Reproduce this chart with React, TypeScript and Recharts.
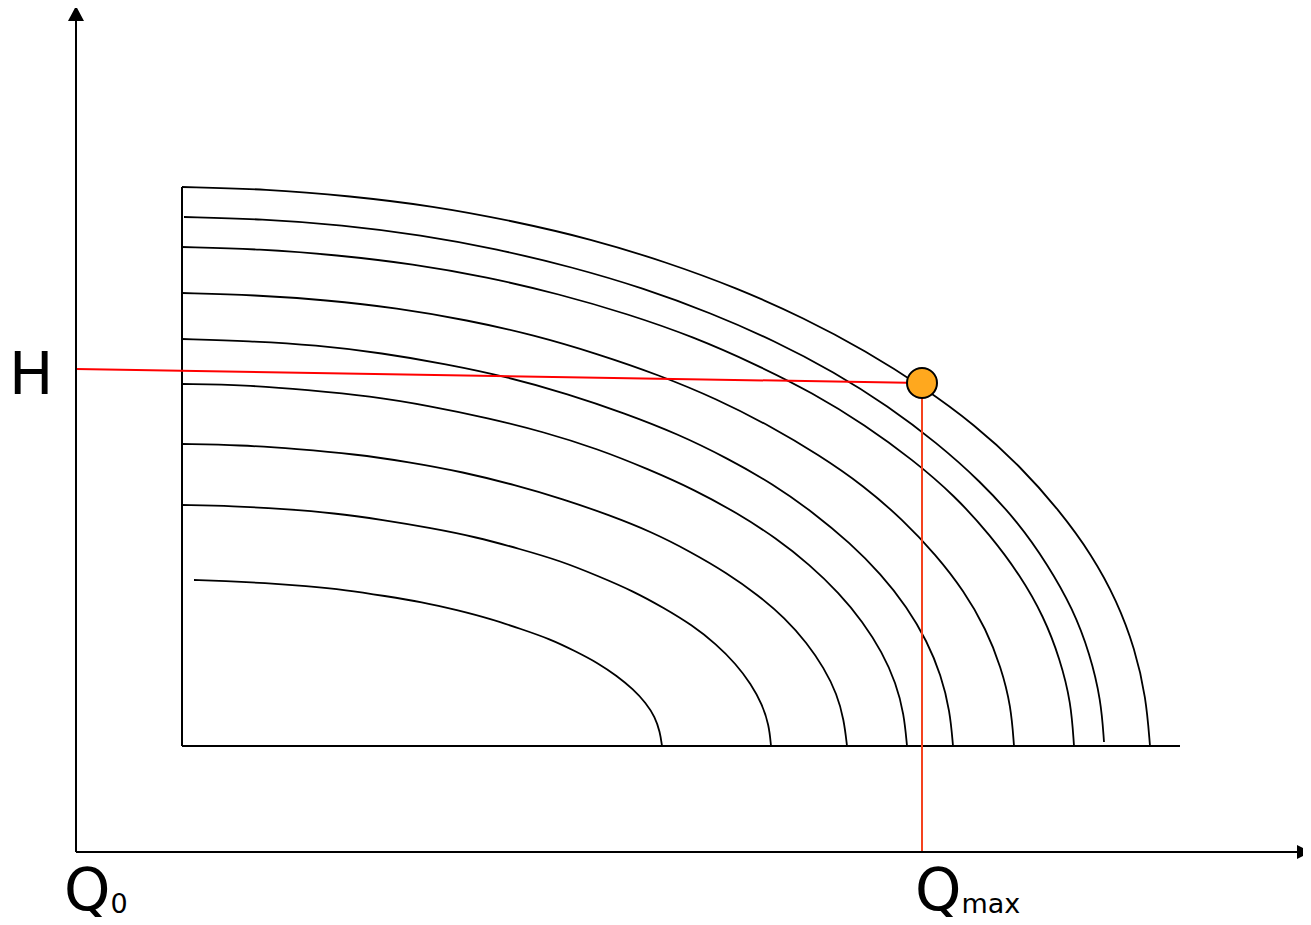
import { ComposedChart, Line, ReferenceDot, XAxis, YAxis } from "recharts";

// flow / head (same units as the plot: Q to the right, H up)
type Pt = [number, number];

const curve1: Pt[] = [[106, 665], [190, 663], [274, 656], [357, 646], [437, 631], [515, 613], [590, 590], [661, 564], [728, 534], [790, 501], [847, 465], [899, 427], [944, 386], [983, 342], [1016, 297], [1041, 251], [1059, 203], [1070, 155], [1074, 106]];
const curve2: Pt[] = [[108, 635], [186, 633], [266, 627], [345, 617], [421, 603], [496, 585], [567, 564], [635, 539], [699, 511], [758, 480], [812, 446], [861, 409], [904, 371], [942, 330], [972, 287], [997, 243], [1014, 198], [1025, 152], [1028, 110]];
const curve3: Pt[] = [[106, 605], [184, 603], [261, 597], [337, 588], [411, 575], [483, 558], [552, 538], [618, 515], [679, 488], [737, 459], [789, 427], [837, 392], [879, 356], [914, 317], [944, 277], [968, 235], [984, 193], [995, 150], [998, 106]];
const curve4: Pt[] = [[106, 559], [179, 557], [250, 552], [321, 544], [391, 532], [458, 517], [522, 498], [583, 477], [641, 453], [694, 426], [743, 397], [788, 366], [827, 332], [860, 297], [888, 261], [910, 223], [925, 185], [935, 146], [938, 106]];
const curve5: Pt[] = [[106, 513], [173, 511], [240, 507], [306, 499], [370, 488], [432, 475], [492, 458], [548, 439], [602, 418], [651, 394], [697, 368], [738, 339], [774, 309], [805, 278], [831, 245], [851, 211], [865, 177], [874, 141], [877, 106]];
const curve6: Pt[] = [[106, 468], [169, 467], [232, 462], [294, 456], [354, 446], [412, 434], [468, 420], [522, 403], [572, 383], [619, 362], [661, 339], [700, 314], [734, 287], [763, 259], [787, 230], [806, 200], [820, 169], [828, 138], [831, 106]];
const curve7: Pt[] = [[106, 408], [164, 407], [221, 403], [278, 398], [333, 390], [387, 380], [439, 367], [487, 353], [533, 337], [576, 320], [615, 300], [651, 279], [682, 257], [709, 234], [731, 209], [748, 184], [761, 158], [768, 132], [771, 106]];
const curve8: Pt[] = [[106, 347], [157, 346], [208, 343], [258, 339], [307, 332], [355, 324], [400, 315], [444, 303], [485, 291], [522, 276], [557, 261], [588, 244], [616, 227], [640, 208], [660, 188], [675, 168], [686, 148], [693, 127], [695, 106]];
const curve9: Pt[] = [[118, 272], [148, 271], [189, 269], [230, 266], [270, 262], [309, 256], [346, 250], [381, 242], [415, 233], [445, 223], [474, 213], [499, 201], [522, 189], [541, 176], [557, 163], [570, 149], [579, 135], [584, 120], [586, 106]];

const frameSide: Pt[] = [[106, 106], [106, 665]];
const frameBase: Pt[] = [[106, 106], [1104, 106]];

const qMax = 846;
const hAtPoint = 469;
const hLabel = 483;
const headLine: Pt[] = [[0, hLabel], [qMax, hAtPoint]];
const flowLine: Pt[] = [[qMax, hAtPoint], [qMax, 0]];

const xTicks = [0, qMax];
const xTickMain = ["Q", "Q"];
const xTickSub = ["0", "max"];
const yTicks = [hLabel];
const yTickText = ["H"];

const X_MAX = 1235;
const Y_MAX = 846;

const FONT = "'DejaVu Sans', Verdana, sans-serif";

const toRows = (pts: Pt[]) => pts.map(([x, y]) => ({ x, y }));
const curves = [curve1, curve2, curve3, curve4, curve5, curve6, curve7, curve8, curve9];

function FlowTick({ x, y, payload }: any) {
  const i = xTicks.indexOf(payload.value);
  const dx = i === 0 ? -12 : -7;
  return (
    <text x={x + dx} y={y + 58} fontSize={59} fontFamily={FONT} fill="#000">
      <tspan>{xTickMain[i]}</tspan>
      <tspan fontSize={27} dy={3}>{xTickSub[i]}</tspan>
    </text>
  );
}

function HeadTick({ x, y, payload }: any) {
  const i = yTicks.indexOf(payload.value);
  return (
    <text x={x - 67} y={y + 25} fontSize={59} fontFamily={FONT} fill="#000">
      {yTickText[i]}
    </text>
  );
}

const upArrow = ({ cx, cy }: any) => (
  <polygon points={`${cx},${cy} ${cx - 8},${cy + 15} ${cx + 8},${cy + 15}`} fill="#000" />
);
const rightArrow = ({ cx, cy }: any) => (
  <polygon points={`${cx},${cy} ${cx - 14},${cy - 7} ${cx - 14},${cy + 7}`} fill="#000" />
);

export default function App() {
  return (
    <div style={{ margin: -8, background: "#fff" }}>
      <ComposedChart width={1311} height={925} margin={{ top: 6, right: 0, bottom: 0, left: 0 }}>
        <XAxis
          type="number"
          dataKey="x"
          domain={[0, X_MAX]}
          ticks={xTicks}
          interval={0}
          height={73}
          tickSize={0}
          tickMargin={0}
          tickLine={false}
          axisLine={{ stroke: "#000", strokeWidth: 2 }}
          tick={<FlowTick />}
          allowDataOverflow
        />
        <YAxis
          type="number"
          dataKey="y"
          domain={[0, Y_MAX]}
          ticks={yTicks}
          interval={0}
          width={76}
          tickSize={0}
          tickMargin={0}
          tickLine={false}
          axisLine={{ stroke: "#000", strokeWidth: 2 }}
          tick={<HeadTick />}
          allowDataOverflow
        />

        <Line data={toRows(frameSide)} dataKey="y" type="linear" stroke="#000" strokeWidth={2} dot={false} isAnimationActive={false} />
        <Line data={toRows(frameBase)} dataKey="y" type="linear" stroke="#000" strokeWidth={2} dot={false} isAnimationActive={false} />

        {curves.map((c, i) => (
          <Line
            key={i}
            data={toRows(c)}
            dataKey="y"
            type="basis"
            stroke="#000"
            strokeWidth={1.8}
            dot={false}
            isAnimationActive={false}
          />
        ))}

        <Line data={toRows(headLine)} dataKey="y" type="linear" stroke="#ff0000" strokeWidth={2} dot={false} isAnimationActive={false} />
        <Line data={toRows(flowLine)} dataKey="y" type="linear" stroke="#f5421e" strokeWidth={2} dot={false} isAnimationActive={false} />

        <ReferenceDot x={0} y={Y_MAX} r={0} ifOverflow="visible" shape={upArrow} />
        <ReferenceDot x={X_MAX} y={0} r={0} ifOverflow="visible" shape={rightArrow} />
        <ReferenceDot x={qMax} y={hAtPoint} r={15} fill="#ffa81e" stroke="#000" strokeWidth={2} ifOverflow="visible" />
      </ComposedChart>
    </div>
  );
}
